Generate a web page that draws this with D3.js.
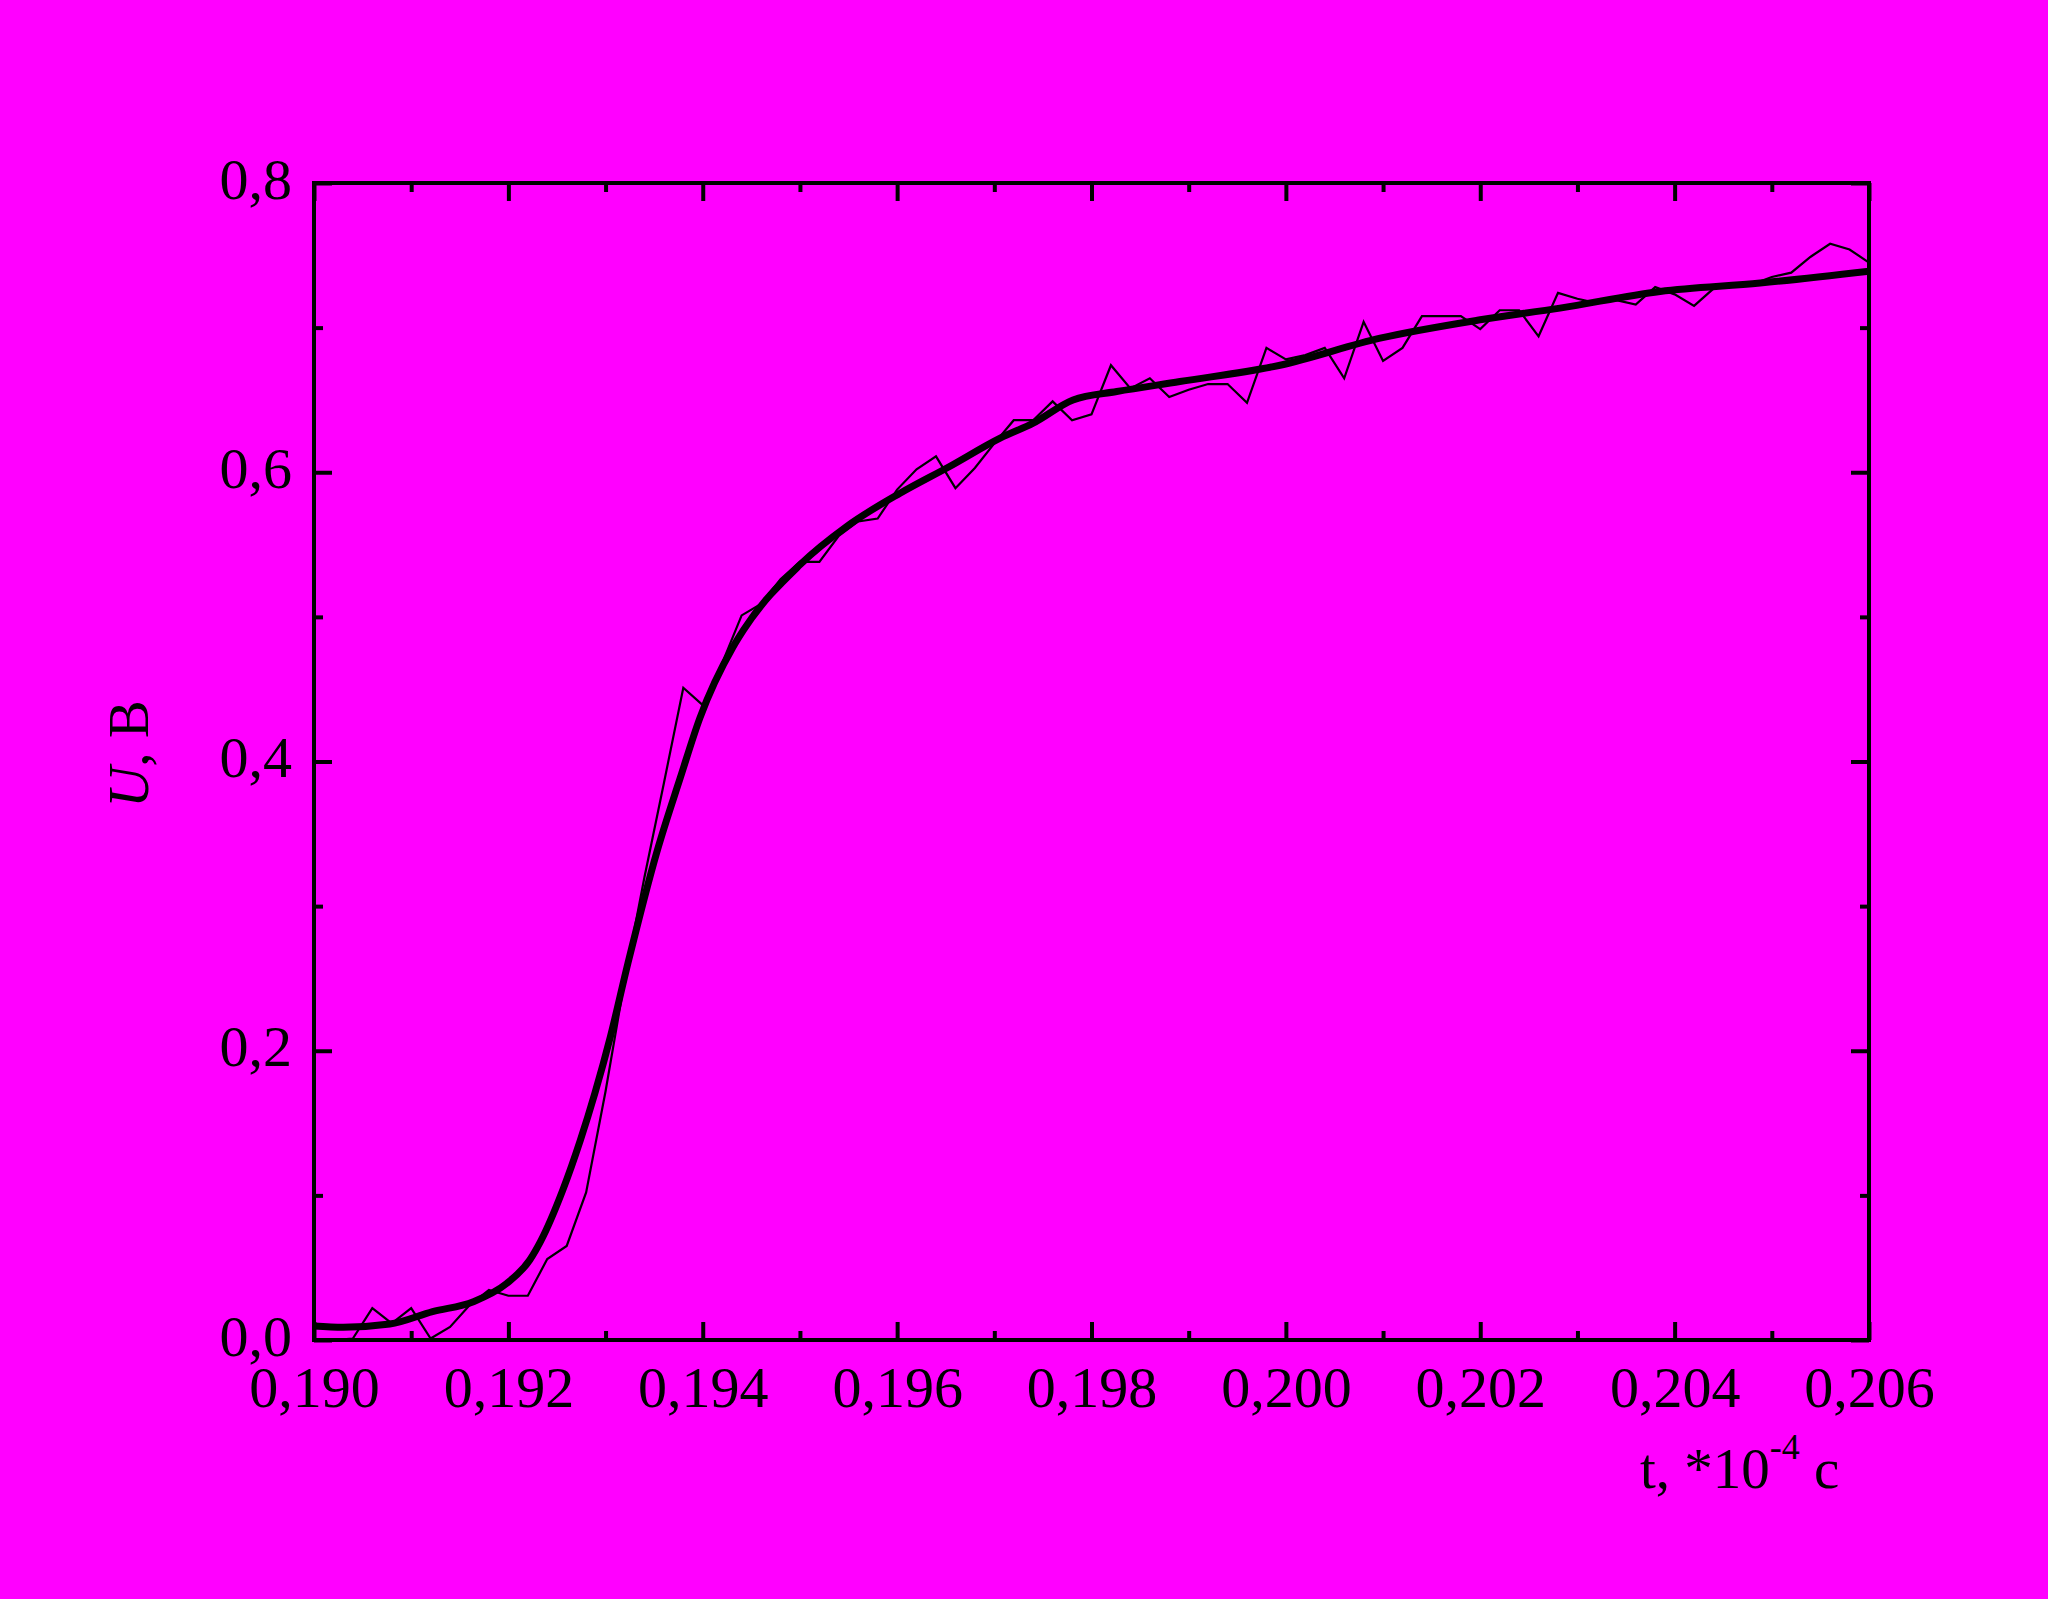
<!DOCTYPE html>
<html>
<head>
<meta charset="utf-8">
<script src="https://cdn.jsdelivr.net/npm/d3@7"></script>
<style>
  html, body { margin: 0; padding: 0; background: #ff00ff; }
  svg { display: block; }
  text { font-family: "Liberation Serif", "Times New Roman", serif; fill: #000; }
</style>
</head>
<body>
<svg id="chart" width="2048" height="1599"></svg>
<script>
// ---- Data ----
const xTickValues = [0.190, 0.192, 0.194, 0.196, 0.198, 0.200, 0.202, 0.204, 0.206];
const xMinorValues = [0.191, 0.193, 0.195, 0.197, 0.199, 0.201, 0.203, 0.205];
const yTickValues = [0.0, 0.2, 0.4, 0.6, 0.8];
const yMinorValues = [0.1, 0.3, 0.5, 0.7];

// measured (noisy) signal
const measT = [0.1900, 0.1902, 0.1904, 0.1906, 0.1908, 0.1910, 0.1912, 0.1914, 0.1916, 0.1918,
               0.1920, 0.1922, 0.1924, 0.1926, 0.1928, 0.1930, 0.1932, 0.1934, 0.1936, 0.1938,
               0.1940, 0.1942, 0.1944, 0.1946, 0.1948, 0.1950, 0.1952, 0.1954, 0.1956, 0.1958,
               0.1960, 0.1962, 0.1964, 0.1966, 0.1968, 0.1970, 0.1972, 0.1974, 0.1976, 0.1978,
               0.1980, 0.1982, 0.1984, 0.1986, 0.1988, 0.1990, 0.1992, 0.1994, 0.1996, 0.1998,
               0.2000, 0.2002, 0.2004, 0.2006, 0.2008, 0.2010, 0.2012, 0.2014, 0.2016, 0.2018,
               0.2020, 0.2022, 0.2024, 0.2026, 0.2028, 0.2030, 0.2032, 0.2034, 0.2036, 0.2038,
               0.2040, 0.2042, 0.2044, 0.2046, 0.2048, 0.2050, 0.2052, 0.2054, 0.2056, 0.2058,
               0.2060];
const measU = [0.000, 0.000, 0.001, 0.022, 0.0115, 0.022, 0.001, 0.009, 0.024, 0.0346,
               0.0306, 0.0306, 0.056, 0.065, 0.102, 0.172, 0.250, 0.320, 0.385, 0.451,
               0.439, 0.468, 0.501, 0.509, 0.526, 0.538, 0.538, 0.556, 0.566, 0.568,
               0.588, 0.602, 0.611, 0.589, 0.603, 0.620, 0.636, 0.636, 0.649, 0.636,
               0.640, 0.674, 0.658, 0.665, 0.652, 0.657, 0.661, 0.661, 0.648, 0.686,
               0.678, 0.681, 0.686, 0.665, 0.704, 0.677, 0.686, 0.708, 0.708, 0.708,
               0.699, 0.712, 0.712, 0.694, 0.724, 0.720, 0.717, 0.719, 0.716, 0.728,
               0.723, 0.715, 0.727, 0.730, 0.730, 0.735, 0.738, 0.749, 0.758, 0.754,
               0.745];

// fitted (smooth) curve
const fitT = [0.19000, 0.19030, 0.19078, 0.19122, 0.19164, 0.19198, 0.19222, 0.19233, 0.19256,
              0.19274, 0.19289, 0.19305, 0.19323, 0.19353, 0.19377, 0.19397, 0.19431, 0.19442,
              0.19500, 0.19548, 0.19603, 0.19654, 0.19706, 0.19740, 0.19781, 0.19826, 0.19891,
              0.19994, 0.20097, 0.20200, 0.20282, 0.20385, 0.20488, 0.20600];
const fitU = [0.0097, 0.0088, 0.0110, 0.0196, 0.0265, 0.0390, 0.0553, 0.0680, 0.1037,
              0.1380, 0.1706, 0.2098, 0.2605, 0.3380, 0.3890, 0.4300, 0.4790, 0.4910,
              0.5360, 0.5625, 0.5855, 0.6040, 0.6236, 0.6340, 0.6500, 0.6558, 0.6627,
              0.6740, 0.6927, 0.7054, 0.7135, 0.7250, 0.7308, 0.7390];

// ---- Layout ----
const svg = d3.select("#chart");
svg.append("rect").attr("width", 2048).attr("height", 1599).attr("fill", "#ff00ff");

const L = 314, R = 1869, T = 183, B = 1340;
const x = d3.scaleLinear().domain([0.190, 0.206]).range([L, R]);
const y = d3.scaleLinear().domain([0, 0.8]).range([B, T]);

const loc = d3.formatLocale({decimal: ",", thousands: " ", grouping: [3], currency: ["", ""]});
const fx = loc.format(".3f");
const fy = loc.format(".1f");

function styleAxis(g) {
  g.select(".domain").remove();
  g.selectAll(".tick line").attr("stroke", "#000").attr("stroke-width", 4);
}

// bottom
const gB = svg.append("g").attr("transform", `translate(0,${B})`)
  .call(d3.axisBottom(x).tickValues(xTickValues).tickSize(-18).tickFormat(fx));
styleAxis(gB);
gB.selectAll("text").attr("y", 67).attr("dy", null).attr("font-size", 58)
  .attr("font-family", "Liberation Serif, Times New Roman, serif").attr("fill", "#000");
svg.append("g").attr("transform", `translate(0,${B})`)
  .call(d3.axisBottom(x).tickValues(xMinorValues).tickSize(-9).tickFormat(""))
  .call(styleAxis);
// top
svg.append("g").attr("transform", `translate(0,${T})`)
  .call(d3.axisTop(x).tickValues(xTickValues).tickSize(-18).tickFormat("")).call(styleAxis);
svg.append("g").attr("transform", `translate(0,${T})`)
  .call(d3.axisTop(x).tickValues(xMinorValues).tickSize(-9).tickFormat("")).call(styleAxis);
// left
const gL = svg.append("g").attr("transform", `translate(${L},0)`)
  .call(d3.axisLeft(y).tickValues(yTickValues).tickSize(-18).tickFormat(fy));
styleAxis(gL);
gL.selectAll("text").attr("x", -22).attr("y", 15).attr("dy", null).attr("font-size", 58)
  .attr("text-anchor", "end")
  .attr("font-family", "Liberation Serif, Times New Roman, serif").attr("fill", "#000");
svg.append("g").attr("transform", `translate(${L},0)`)
  .call(d3.axisLeft(y).tickValues(yMinorValues).tickSize(-9).tickFormat("")).call(styleAxis);
// right
svg.append("g").attr("transform", `translate(${R},0)`)
  .call(d3.axisRight(y).tickValues(yTickValues).tickSize(-18).tickFormat("")).call(styleAxis);
svg.append("g").attr("transform", `translate(${R},0)`)
  .call(d3.axisRight(y).tickValues(yMinorValues).tickSize(-9).tickFormat("")).call(styleAxis);

// frame
svg.append("rect").attr("x", L).attr("y", T).attr("width", R - L).attr("height", B - T)
  .attr("fill", "none").attr("stroke", "#000").attr("stroke-width", 4);

// ---- Lines ----
const measData = measT.map((t, i) => [t, measU[i]]);
const fitData = fitT.map((t, i) => [t, fitU[i]]);

svg.append("path").datum(measData)
  .attr("fill", "none").attr("stroke", "#000").attr("stroke-width", 2.2)
  .attr("stroke-linejoin", "miter")
  .attr("d", d3.line().x(d => x(d[0])).y(d => y(d[1])));

svg.append("path").datum(fitData)
  .attr("fill", "none").attr("stroke", "#000").attr("stroke-width", 7)
  .attr("d", d3.line().curve(d3.curveMonotoneX).x(d => x(d[0])).y(d => y(d[1])));

// ---- Axis titles ----
const xt = svg.append("text").attr("x", 1640).attr("y", 1488).attr("font-size", 57);
xt.append("tspan").text("t, *10");
xt.append("tspan").attr("font-size", 36).attr("dy", -29).text("-4");
xt.append("tspan").attr("dy", 29).text(" с");

const yt = svg.append("text").attr("transform", "translate(148,754) rotate(-90)")
  .attr("text-anchor", "middle").attr("font-size", 57);
yt.append("tspan").attr("font-style", "italic").text("U");
yt.append("tspan").text(", В");
</script>
</body>
</html>
